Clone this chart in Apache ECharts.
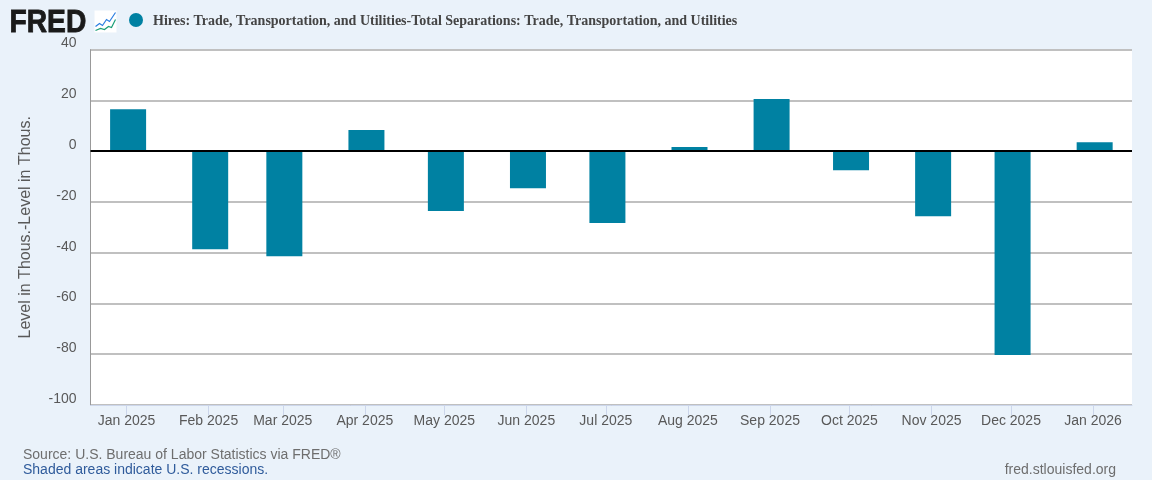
<!DOCTYPE html>
<html><head><meta charset="utf-8">
<style>html,body{margin:0;padding:0;background:#eaf2fa}#c{width:1152px;height:480px}</style>
<script src="https://cdn.jsdelivr.net/npm/echarts@6/dist/echarts.min.js"></script>
</head><body><div id="c"></div>
<script>
const dates = ['2025-01-01','2025-02-01','2025-03-01','2025-04-01','2025-05-01','2025-06-01','2025-07-01','2025-08-01','2025-09-01','2025-10-01','2025-11-01','2025-12-01','2026-01-01'];
const values = [16.5,-38.6,-41.4,8.3,-23.6,-14.6,-28.3,1.6,20.5,-7.5,-25.6,-80.3,3.5];
const seriesName = 'Hires: Trade, Transportation, and Utilities-Total Separations: Trade, Transportation, and Utilities';
const yTitle = 'Level in Thous.-Level in Thous.';
const months = ['Jan','Feb','Mar','Apr','May','Jun','Jul','Aug','Sep','Oct','Nov','Dec'];
const sans = '"Liberation Sans", Arial, sans-serif';
const ts = d => Date.parse(d + 'T00:00:00Z');
const DAY = 86400000;
const tickLead = 0.6 * DAY;           // the reference's ticks sit slightly left of the bar centres
const tickValues = dates.map(d => ts(d) - tickLead);
const chart = echarts.init(document.getElementById('c'), null, {renderer:'canvas'});
const serif = {fontFamily:'"Liberation Serif", serif',fontWeight:'bold',fontSize:14,color:'#444444'};
chart.setOption({
  animation:false,
  backgroundColor:'#eaf2fa',
  textStyle:{fontFamily:sans},
  legend:{left:124,top:8,itemWidth:14,itemHeight:14,icon:'circle',selectedMode:false,
    formatter:n=>'{t|'+n+'}',
    textStyle:{...serif,padding:[0,0,0,5],rich:{t:{...serif,padding:[3,0,0,0]}}}},
  grid:{left:90.5,right:20,top:49.6,bottom:75,backgroundColor:'#ffffff',show:true,borderWidth:0},
  xAxis:{type:'value',min:ts(dates[0])-14.2*DAY,max:ts(dates[12])+14.1*DAY,
    axisLine:{onZero:false,show:true,lineStyle:{color:'#ccd6eb',width:1}},
    axisTick:{show:true,length:10,customValues:tickValues,lineStyle:{color:'#ccd6eb',width:1}},
    axisLabel:{customValues:tickValues,margin:9,fontSize:14,color:'#595959',fontFamily:sans,hideOverlap:false,
      formatter:v=>{const d=new Date(v+tickLead);return months[d.getUTCMonth()]+' '+d.getUTCFullYear();}},
    splitLine:{show:false}},
  yAxis:{type:'value',min:-100,max:40,interval:20,
    name:yTitle,nameLocation:'middle',nameGap:57,nameTextStyle:{fontSize:16,color:'#595959',fontFamily:sans},
    axisLine:{show:true,lineStyle:{color:'#999999',width:1}},
    axisTick:{show:false},
    axisLabel:{margin:14,fontSize:14,color:'#595959',fontFamily:sans,verticalAlign:'bottom',lineHeight:12},
    splitLine:{show:true,lineStyle:{color:'#c0c0c0',width:2}}},
  series:[{name:seriesName,type:'bar',barWidth:36,
    itemStyle:{color:'#0081a2'},
    data:dates.map((d,i)=>[ts(d),values[i]]),
    markLine:{silent:true,symbol:'none',label:{show:false},animation:false,
      lineStyle:{color:'#000000',width:2,type:'solid'},data:[{yAxis:0}]}}],
  graphic:[
    {type:'text',x:9.5,y:8.5,scaleX:0.94,scaleY:1.03,style:{text:'FRED',fontFamily:sans,fontWeight:'bold',fontSize:30,fill:'#1a1a1a',stroke:'#1a1a1a',lineWidth:0.8}},
    {type:'group',left:93,top:10,children:[
      {type:'rect',shape:{x:0,y:0,width:22,height:22},style:{fill:'#ffffff'}},
      {type:'polyline',shape:{points:[[1,16],[5,13],[8,15],[12,9],[15,11],[21,2]]},style:{stroke:'#2a7de1',fill:null,lineWidth:1.2}},
      {type:'polyline',shape:{points:[[1,20],[6,18],[10,19],[14,16],[17,17],[21,9]]},style:{stroke:'#1a9e78',fill:null,lineWidth:1.2}}
    ]},
    {type:'text',left:23,top:448,style:{text:'Source: U.S. Bureau of Labor Statistics via FRED®',fontFamily:sans,fontSize:14,fill:'#6e6e6e'}},
    {type:'text',left:23,top:463,style:{text:'Shaded areas indicate U.S. recessions.',fontFamily:sans,fontSize:14,fill:'#2f5b9b'}},
    {type:'text',right:36,top:463,style:{text:'fred.stlouisfed.org',fontFamily:sans,fontSize:14,fill:'#6e6e6e'}}
  ]
});
</script></body></html>
